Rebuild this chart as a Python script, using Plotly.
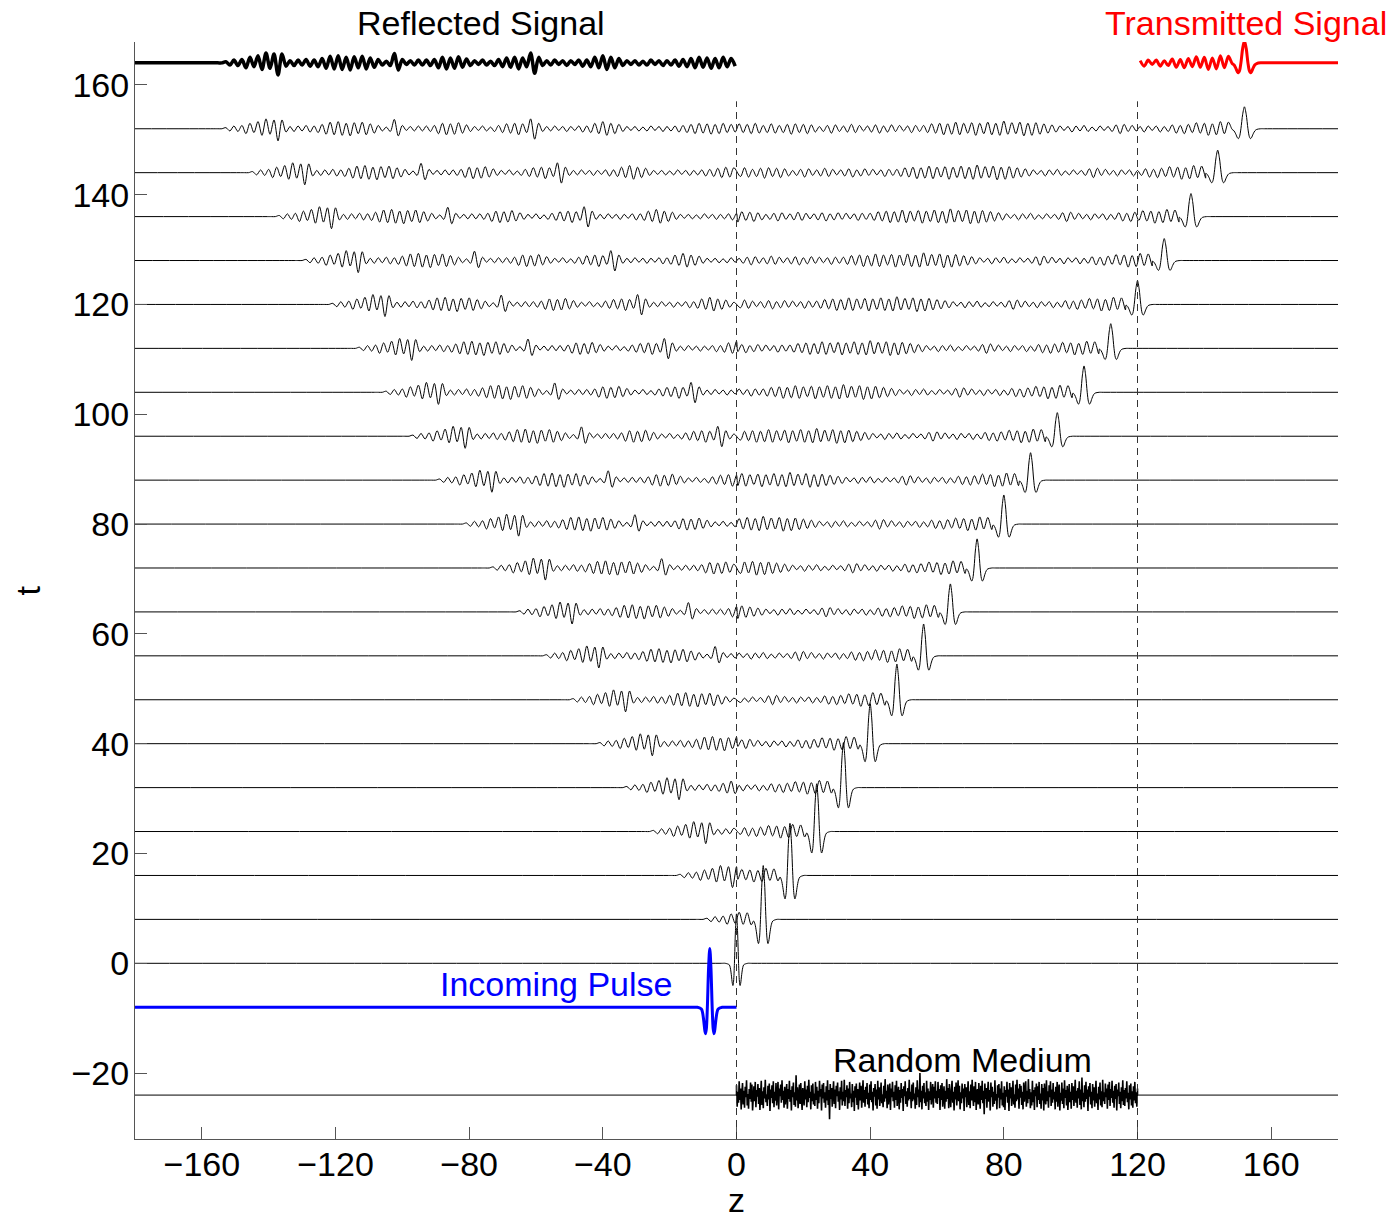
import plotly.graph_objects as go

# ---------------- data ----------------
TIMES = [0, 8, 16, 24, 32, 40, 48, 56, 64, 72, 80, 88, 96, 104, 112, 120, 128, 136, 144, 152]
PULSE_AMP = [9.0, 9.8, 9.5, 8.7, 8.2, 7.3, 6.5, 5.8, 5.1, 5.3, 5.3, 5.0, 4.3, 4.8, 4.5, 4.3, 4.0, 4.2, 4.1, 4.0]
PULSE_SIGMA = [0.62, 0.82, 0.85, 0.85, 0.87, 0.88, 0.9, 0.9, 0.9, 0.92, 0.92, 0.94, 0.95, 0.95, 0.97, 0.98, 1.0, 1.0, 1.02, 1.05]

# pulse template (Ricker-like shape of the incoming pulse, position in units of sigma)
PULSE_X = [-3.5, -3.0, -2.5, -2.0, -1.73, -1.4, -1.0, -0.5, 0.0, 0.5, 1.0, 1.4, 1.73, 2.0, 2.5, 3.0, 3.5]
PULSE_Y = [-0.03, -0.09, -0.23, -0.41, -0.45, -0.36, 0.0, 0.66, 1.0, 0.66, 0.0, -0.36, -0.45, -0.41, -0.23, -0.09, -0.03]

INCOMING_T = -8
INCOMING_AMP = 10.7
INCOMING_SIGMA = 0.72

# reflected signal R(s), extrema sampled every STEP starting at s = R_S0
R_S0 = -2.0
STEP = 1.2
REFLECTED = [0.0, 0.2, -0.4, 0.5, -0.5, 0.6,
             -0.9, 1.0, -0.7, 1.3, -1.2, 1.8, -1.0, 1.6, -2.2, 1.6,
             -0.6, 0.4, -0.5, 0.5, -0.4, 0.6, -0.6, 0.5, -0.7, 0.8,
             -1.0, 1.2, -1.1, 1.3, -1.2, 1.0, -1.3, 1.1, -0.9, 1.2, -1.1, 0.9, -0.8, 0.6,
             -0.4, 0.3, -0.5, 1.7, -1.3, 0.6,
             -0.3, 0.4, -0.4, 0.5, -0.4, 0.5, -0.5, 0.6,
             -0.9, 1.0, -1.1, 0.9, -1.0, 1.1, -0.8, 0.7,
             -0.5, 0.4, -0.3, 0.5, -0.4, 0.3, -0.5, 0.6, -0.7,
             0.9, -0.8, 1.0, -1.1, 0.9, -0.7,
             1.8, -1.9, 1.0,
             -0.5, 0.4, -0.4, 0.5, -0.3, 0.4, -0.5, 0.4, -0.3, 0.5, -0.6, 0.5, -0.7,
             1.0, -0.9, 1.3, -1.2, 1.0, -0.9, 0.8,
             -0.5, 0.4, -0.3, 0.4, -0.4, 0.3, -0.4, 0.5, -0.3, 0.4, -0.5, 0.4, -0.4, 0.5, -0.6, 0.6, -0.7,
             0.8, -0.9, 1.0, -0.8, 0.9, -1.0, 0.8, -0.9, 1.0, -0.7, 0.8, -0.6]

# coda behind the transmitted front, indexed by distance d behind the front (d = k*STEP)
CODA = [0.0, 0.0,
        0.6, -1.0, 1.2, -0.9, 1.3, -1.1, 0.9, -1.2, 1.0, -0.8, 1.1,
        -0.7, 0.8, -0.9, 0.6, -0.8, 0.7,
        -0.5, 0.4, -0.6, 0.5, -0.3, 0.5, -0.6, 0.4, -0.4, 0.6, -0.5, 0.8, -0.9, 0.7, -0.5, 0.4,
        -0.3, 0.5, -0.4, 0.3, -0.5, 0.6, -0.4, 0.5, -0.6, 0.4, -0.3, 0.5, -0.6, 0.7, -0.8, 0.9, -1.0,
        1.1, -1.2, 1.0, -1.3, 1.2, -0.9, 1.1, -1.0, 1.4, -1.2, 1.0, -1.1, 1.2, -0.9, 1.0, -1.2,
        1.1, -0.8, 1.0, -1.1, 1.2, -1.0, 0.9, -1.1, 1.0, -0.8, 0.9, -0.7, 0.6,
        -0.5, 0.6, -0.7, 0.5, -0.4, 0.6, -0.5, 0.7, -0.6, 0.5, -0.8, 0.7, -0.6, 0.5, -0.4, 0.6,
        -0.7, 0.8, -0.6, 0.5, -0.5, 0.7, -0.8, 0.6, -0.5, 0.4, -0.6, 0.7, -0.9, 0.8, -0.7, 0.9,
        -1.0, 0.8, -0.7, 0.6, -0.8, 0.9, -0.7, 0.6, -0.8, 1.0, -0.9, 0.8, -0.7, 0.9, -0.8]

# random medium fluctuations on 0 <= z <= MEDIUM_END
MEDIUM_T = -24
MEDIUM_END = 120
MEDIUM = [1.8, -2.1, 0.6, -1.4, 2.5, -0.9, 1.2, -2.6, 0.3, 2.2, -1.7, 0.8, -2.3, 1.5, -0.4, 2.7, -1.9, 0.2, -2.5, 1.1,
          -0.7, 2.3, -1.2, 1.9, -2.8, 0.5, 1.6, -1.1, 2.4, -2.2, 0.9, -0.3, 2.0, -1.6, 1.3, -2.7, 0.4, 2.6, -1.8, 0.7,
          -2.4, 1.4, -0.6, 2.8, -1.3, 0.1, -2.0, 1.7, -0.8, 2.1, -2.9, 1.0, -0.5, 1.8, -1.5, 2.5, -2.2, 0.6, -1.0, 2.2,
          -1.9, 0.3, 2.4, -2.6, 1.2, -0.2, 1.9, -1.4, 2.7, -0.9, 0.8, -2.3, 1.5, -1.7, 0.4, 2.0, -2.5, 1.1, -0.7, 2.6,
          -1.2, 0.9, -2.8, 1.6, -0.4, 2.3, -1.8, 0.5, -2.1, 3.6, -1.0, 1.4, -2.4, 0.7, 1.9, -1.6, 2.2, -0.6, -2.7, 1.3,
          0.2, -1.9, 2.5, -0.8, 1.0, -2.2, 1.7, -1.3, 2.8, -0.5, 0.6, -2.6, 1.8, -1.1, 2.1, -1.7, 0.3, -2.0, 2.4, -0.9,
          1.5, -2.5, 0.8, -1.5, 2.6, -0.3, 1.1, -2.8, 1.9, -0.6, 2.2, -1.4, 0.5, -2.3, 1.6, -1.0, 2.7, -1.8, 0.9, -4.4,
          2.0, -0.7, 1.3, -2.1, 0.4, 2.5, -1.6, 1.0, -2.4, 1.7, -0.2, 2.3, -1.2, 0.7, -2.7, 1.4, -0.8, 2.6, -1.9, 0.6,
          -1.1, 2.8, -2.0, 0.9, -0.4, 1.8, -2.5, 1.2, -1.5, 2.4, -0.6, 0.3, -2.2, 2.0, -1.3, 0.8, -2.9, 1.6, -0.5, 2.1,
          -1.8, 1.1, -2.6, 0.5, 2.3, -1.0, 1.7, -2.3, 0.2, 2.7, -1.4, 0.9, -2.1, 1.5, -0.7, 2.2, -1.7, 0.4, -2.4, 1.9,
          -0.9, 2.5, -1.3, 0.6, -2.8, 1.3, -0.3, 2.0, -1.9, 1.0, -2.5, 2.6, -0.8, 1.4, -2.0, 0.7, 2.3, -1.5, 0.1, -2.2,
          1.7, -1.2, 2.9, -0.6, 0.8, -2.4, 1.9, -1.7, 0.5, 2.1, -2.7, 1.2, -0.4, 2.4, -1.1, 0.6, -2.3, 1.8, -0.9, 2.6,
          -2.0, 0.4, 1.5, -2.6, 0.9, -1.4, 2.2, -0.5, 1.1, -2.9, 1.6, -0.2, 2.5, -1.6, 0.7, -2.1, 1.3, -1.0, 2.8, -0.7,
          0.6, -2.4, 1.9, -1.1, 2.3, -0.8, 0.3, -2.5, 1.4, -1.8, 2.7, -0.4, 1.0, -2.2, 4.0, -1.3, 0.8, -2.6, 1.7, -0.6,
          2.2, -1.5, 0.5, -2.0, 2.6, -1.2, 1.2, -2.7, 0.7, -0.9, 2.4, -1.7, 0.2, 2.0, -2.3, 1.5, -0.6, 2.5, -1.4, 0.8,
          -1.6, 2.4, -0.5, 1.1, -2.7, 1.8, -0.9, 2.2, -2.1, 0.4, 1.6, -2.5, 0.8, -1.2, 2.9, -0.7, 1.3, -2.4, 2.0, -0.3,
          -2.2, 1.0, 2.6, -1.4, 0.6, -2.8, 1.5, -0.8, 2.3, -1.9, 0.2, 2.7, -1.1, 1.7, -2.6, 0.5, -1.5, 2.1, -0.6, 1.2,
          -2.9, 2.0, -0.4, 1.4, -2.2, 0.9, 2.5, -1.8, 0.7, -2.4, 1.9, -1.0, 2.8, -0.2, -2.0, 1.6, -1.3, 2.4, -2.7, 0.3,
          1.1, -1.7, 2.2, -0.6, -2.5, 1.7, -0.9, 2.6, -1.5, 0.8, -3.5, 2.1, -0.7, 1.3, -2.3, 0.5, 2.4, -1.2, 0.9, -2.8,
          2.3, -0.4, 1.5, -2.1, 0.6, -1.6, 2.7, -1.0, 0.2, -2.6, 1.8, -0.5, 2.0, -2.4, 1.2, -0.8, 2.5, -1.9, 0.4, -2.2,
          1.6, -2.7, 0.9, -0.3, 2.4, -1.4, 1.0, -2.9, 2.2, -0.6, 1.4, -2.0, 0.7, 2.6, -1.7, 0.1, -2.3, 1.9, -1.1, 2.8,
          -0.8, 1.2, -2.5, 2.0, -0.5, 1.7, -1.8, 0.6, -2.6, 2.3, -1.2, 0.4, 2.5, -2.1, 0.8, -1.5, 2.9, -0.7, 1.1, -2.4,
          0.5, -1.9, 2.6, -1.3, 0.9, -2.7, 1.4, -0.2, 2.1, -2.2, 1.6, -0.9, 2.4, -1.6, 0.3, -2.5, 2.0, -1.0, 1.3, -2.8,
          2.1, -0.6, -1.7, 2.7, -1.1, 0.7, -2.3, 1.8, -0.4, 2.5, -2.0, 1.0, -1.4, 2.2, -0.8, 0.6, -2.6, 1.5, -1.2, 2.4,
          -2.1, 0.8, 1.9, -2.8, 0.4, -1.0, 2.3, -1.6, 1.2, -2.4, 2.7, -0.5, 0.9, -1.9, 1.7, -2.7, 0.2, 2.0, -1.3, 0.6,
          -2.5, 2.2, -0.9, 1.6, -2.0, 0.5, 2.8, -1.4, 0.8, -2.3, 1.3, -0.6, 2.5, -1.8, 1.0, -2.6, 3.2, -1.1, 0.4, -2.2,
          1.8, -1.2, 2.4, -0.7, 1.0, -2.9, 1.6, -0.3, 2.2, -1.7, 0.6, -2.4, 2.0, -1.0, 1.4, -2.1, 0.9, 2.6, -1.5, 0.3,
          -2.7, 1.5, -0.8, 2.3, -1.9, 0.7, -2.2, 2.8, -1.1, 0.5, -1.6, 2.1, -0.4, 1.2, -2.5, 1.9, -0.9, 2.4, -2.0, 1.1,
          -0.5, 2.6, -1.4, 0.8, -2.3, 1.7, -0.7, 2.0, -2.8, 1.0, -0.2, 2.3, -1.6, 0.6, -2.4, 1.4, -1.1, 2.7, -1.8, 0.9,
          -2.0, 1.3, -0.6, 2.5, -1.3, 0.4, -2.6, 1.8, -0.8, 2.1, -1.9, 0.7, -2.3, 1.6, -1.0, 2.4, -1.5, 0.5, -2.1, 1.2]

TOP_T = 164
INTERFACE_Z = [0, 120]
Z_MIN, Z_MAX = -180, 180
T_MIN, T_MAX = -32, 167.8

LABELS = {"reflected": "Reflected Signal", "transmitted": "Transmitted Signal",
          "incoming": "Incoming Pulse", "medium": "Random Medium"}

FLAT_PAD = [1.2, 2.4]   # extra flat samples so the smoothed line stays straight


# ---------------- build traces ----------------
def trace_points(t, amp, sig):
    hw = PULSE_X[-1] * sig
    zs, ys = [], []
    for k, v in enumerate(REFLECTED):
        s = R_S0 + k * STEP
        z = s - t
        if s <= t and z <= 0 and z < t - hw:
            zs.append(z); ys.append(v)
    pts = []
    for k, v in enumerate(CODA):
        d = k * STEP
        z = t - d
        if z > 0 and d > hw:
            pts.append((z, v))
    for z, v in sorted(pts):
        zs.append(z); ys.append(v)
    for px, py in zip(PULSE_X, PULSE_Y):
        zs.append(t + px * sig); ys.append(amp * py)
    first, last = zs[0], zs[-1]
    zs = [Z_MIN] + [first - p for p in reversed(FLAT_PAD)] + zs + [last + p for p in FLAT_PAD] + [Z_MAX]
    ys = [0.0] * (1 + len(FLAT_PAD)) + ys + [0.0] * (len(FLAT_PAD) + 1)
    return zs, ys


fig = go.Figure()
FONT = "Liberation Sans, Arial, Helvetica, sans-serif"
SPL = dict(shape="spline", smoothing=0.9)

for t, a, s in zip(TIMES, PULSE_AMP, PULSE_SIGMA):
    zs, ys = trace_points(t, a, s)
    fig.add_trace(go.Scatter(x=zs, y=[t + v for v in ys], mode="lines",
                             line=dict(color="black", width=1, **SPL),
                             showlegend=False, hoverinfo="skip"))

# top reflected / transmitted signals (last snapshot)
zs, ys = trace_points(TIMES[-1], PULSE_AMP[-1], PULSE_SIGMA[-1])
rz = [z for z in zs if z <= 0]
ry = [TOP_T + v for z, v in zip(zs, ys) if z <= 0]
fig.add_trace(go.Scatter(x=rz, y=ry, mode="lines",
                         line=dict(color="black", width=3.5, **SPL),
                         showlegend=False, hoverinfo="skip"))
tz = [z for z in zs if z >= INTERFACE_Z[1]]
ty = [TOP_T + v for z, v in zip(zs, ys) if z >= INTERFACE_Z[1]]
fig.add_trace(go.Scatter(x=tz, y=ty, mode="lines",
                         line=dict(color="red", width=3, **SPL),
                         showlegend=False, hoverinfo="skip"))

# incoming pulse
pz = [INCOMING_T + px * INCOMING_SIGMA for px in PULSE_X]
iz = [Z_MIN] + [pz[0] - p for p in reversed(FLAT_PAD)] + pz + [pz[-1] + p for p in FLAT_PAD] + [0]
iy = ([INCOMING_T] * (1 + len(FLAT_PAD)) + [INCOMING_T + INCOMING_AMP * py for py in PULSE_Y]
      + [INCOMING_T] * (len(FLAT_PAD) + 1))
fig.add_trace(go.Scatter(x=iz, y=iy, mode="lines",
                         line=dict(color="blue", width=3, **SPL),
                         showlegend=False, hoverinfo="skip"))

# random medium: thin baseline + dense fluctuations
fig.add_trace(go.Scatter(x=[Z_MIN, Z_MAX], y=[MEDIUM_T, MEDIUM_T], mode="lines",
                         line=dict(color="black", width=1), showlegend=False, hoverinfo="skip"))
n = len(MEDIUM)
mz = [0] + [MEDIUM_END * i / (n - 1) for i in range(n)] + [MEDIUM_END]
my = [MEDIUM_T] + [MEDIUM_T + v for v in MEDIUM] + [MEDIUM_T]
fig.add_trace(go.Scatter(x=mz, y=my, mode="lines", line=dict(color="black", width=1.6),
                         showlegend=False, hoverinfo="skip"))

# interfaces (dashed)
for zi in INTERFACE_Z:
    fig.add_shape(type="line", x0=zi, x1=zi, y0=-32, y1=157, xref="x", yref="y",
                  line=dict(color="#333333", width=1, dash="7px,5px"), layer="above")


def ypaper(t):
    return (t - T_MIN) / (T_MAX - T_MIN)


ann_font = dict(family=FONT, size=34)
fig.add_annotation(x=-76.4, y=ypaper(171.3), xref="x", yref="paper", text=LABELS["reflected"],
                   showarrow=False, font=dict(ann_font, color="black"), xanchor="center", yanchor="middle")
fig.add_annotation(x=152.4, y=ypaper(171.3), xref="x", yref="paper", text=LABELS["transmitted"],
                   showarrow=False, font=dict(ann_font, color="red"), xanchor="center", yanchor="middle")
fig.add_annotation(x=-54.1, y=-3.8, text=LABELS["incoming"], showarrow=False,
                   font=dict(ann_font, color="blue"), xanchor="center", yanchor="middle")
fig.add_annotation(x=67.6, y=-17.7, text=LABELS["medium"], showarrow=False,
                   font=dict(ann_font, color="black"), xanchor="center", yanchor="middle")
# axis titles
fig.add_annotation(x=0.5, y=-0.0556, xref="paper", yref="paper", text="z", showarrow=False,
                   height=26, borderpad=0, valign="middle",
                   font=dict(ann_font, color="black"), xanchor="center", yanchor="middle")
fig.add_annotation(x=-0.089, y=0.5, xref="paper", yref="paper", text="t", showarrow=False,
                   textangle=-90, font=dict(ann_font, color="black"), xanchor="center", yanchor="middle")

fig.update_layout(
    width=1393, height=1215,
    margin=dict(l=135, r=55, t=42, b=76),
    paper_bgcolor="white", plot_bgcolor="white",
    font=dict(family=FONT, size=34, color="black"),
    showlegend=False,
    xaxis=dict(range=[Z_MIN, Z_MAX], tickvals=[-160, -120, -80, -40, 0, 40, 80, 120, 160],
               showgrid=False, zeroline=False, showline=True, linecolor="#555555", linewidth=1,
               ticks="inside", ticklen=12, tickcolor="#555555", mirror=False,
               automargin=False, ticklabelstandoff=-5),
    yaxis=dict(range=[T_MIN, T_MAX], tickvals=[-20, 0, 20, 40, 60, 80, 100, 120, 140, 160],
               showgrid=False, zeroline=False, showline=True, linecolor="#555555", linewidth=1,
               ticks="inside", ticklen=12, tickcolor="#555555", mirror=False,
               automargin=False, ticklabelstandoff=-2),
)

fig.write_html("out.html", config={"displayModeBar": False},
               post_script="document.body.style.margin='0px';")
